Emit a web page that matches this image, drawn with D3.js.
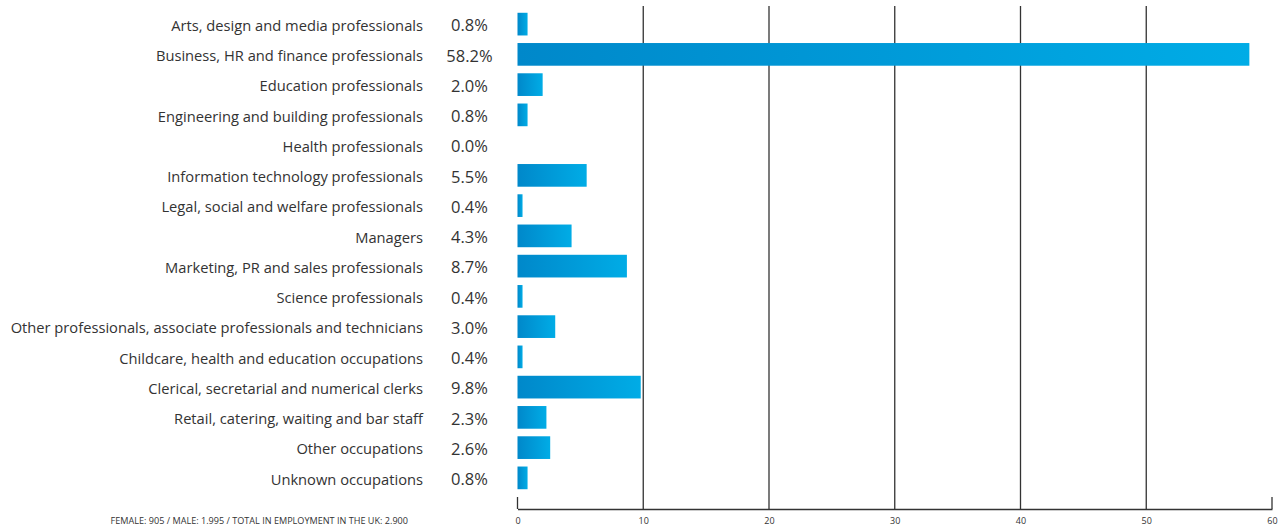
<!DOCTYPE html>
<html>
<head>
<meta charset="utf-8">
<script src="https://cdn.jsdelivr.net/npm/d3@7"></script>
<style>
  html, body { margin: 0; padding: 0; background: #fff; }
  svg { display: block; }
  text { font-family: "Open Sans", "Lato", sans-serif; fill: #333; }
</style>
</head>
<body>
<svg id="chart" width="1285" height="526"></svg>
<script>
// Occupations of graduates in UK employment (% of total)
const categories = [
  "Arts, design and media professionals",
  "Business, HR and finance professionals",
  "Education professionals",
  "Engineering and building professionals",
  "Health professionals",
  "Information technology professionals",
  "Legal, social and welfare professionals",
  "Managers",
  "Marketing, PR and sales professionals",
  "Science professionals",
  "Other professionals, associate professionals and technicians",
  "Childcare, health and education occupations",
  "Clerical, secretarial and numerical clerks",
  "Retail, catering, waiting and bar staff",
  "Other occupations",
  "Unknown occupations"
];
const values = [0.8, 58.2, 2.0, 0.8, 0.0, 5.5, 0.4, 4.3, 8.7, 0.4, 3.0, 0.4, 9.8, 2.3, 2.6, 0.8];
const tickValues = [0, 10, 20, 30, 40, 50, 60];
const footnote = "FEMALE: 905 / MALE: 1.995 / TOTAL IN EMPLOYMENT IN THE UK: 2.900";

const svg = d3.select("#chart");

const x = d3.scaleLinear().domain([0, 60]).range([517.5, 1272]);
const y = d3.scaleBand().domain(categories).range([9, 493]).paddingInner(0.25).paddingOuter(0.125);

const baseY = 509;

// gradient for bars: darker on the left, lighter on the right
const defs = svg.append("defs");
const grad = defs.append("linearGradient")
  .attr("id", "barGrad")
  .attr("x1", "0%").attr("x2", "100%").attr("y1", "0%").attr("y2", "0%");
grad.append("stop").attr("offset", "0%").attr("stop-color", "#0088ca");
grad.append("stop").attr("offset", "100%").attr("stop-color", "#00ace6");

// vertical grid lines
svg.append("g").selectAll("line")
  .data(tickValues)
  .join("line")
  .attr("x1", d => x(d)).attr("x2", d => x(d))
  .attr("y1", d => (d === 0 || d === 60) ? baseY - 12 : 6)
  .attr("y2", baseY)
  .attr("stroke", "#333")
  .attr("stroke-width", 1.3);

// baseline axis
const axis = d3.axisBottom(x).tickValues(tickValues).tickSize(0).tickPadding(9).tickFormat(d3.format("d"));
const gAxis = svg.append("g").attr("transform", `translate(0,${baseY})`).call(axis);
gAxis.select(".domain").attr("stroke", "#333").attr("stroke-width", 1.3);
gAxis.selectAll("text")
  .attr("font-size", 9)
  .attr("font-family", "'Open Sans', sans-serif")
  .attr("fill", "#333");

// bars
svg.append("g").selectAll("rect")
  .data(values.map((v, i) => ({ cat: categories[i], v })))
  .join("rect")
  .attr("x", x(0))
  .attr("y", d => y(d.cat))
  .attr("width", d => x(d.v) - x(0))
  .attr("height", y.bandwidth())
  .attr("fill", "url(#barGrad)");

// category labels
svg.append("g").selectAll("text")
  .data(categories)
  .join("text")
  .attr("x", 423)
  .attr("y", d => y(d) + y.bandwidth() / 2 + 1.5)
  .attr("dy", "0.35em")
  .attr("text-anchor", "end")
  .attr("font-size", 14.7)
  .text(d => d);

// value labels
svg.append("g").selectAll("text")
  .data(values.map((v, i) => ({ cat: categories[i], v })))
  .join("text")
  .attr("x", 469.5)
  .attr("y", d => y(d.cat) + y.bandwidth() / 2 + 1.5)
  .attr("dy", "0.35em")
  .attr("text-anchor", "middle")
  .attr("font-size", 16.5)
  .text(d => d.v.toFixed(1) + "%");

// footnote
svg.append("text")
  .attr("x", 408)
  .attr("y", 524)
  .attr("text-anchor", "end")
  .attr("font-size", 9.1)
  .text(footnote);
</script>
</body>
</html>
